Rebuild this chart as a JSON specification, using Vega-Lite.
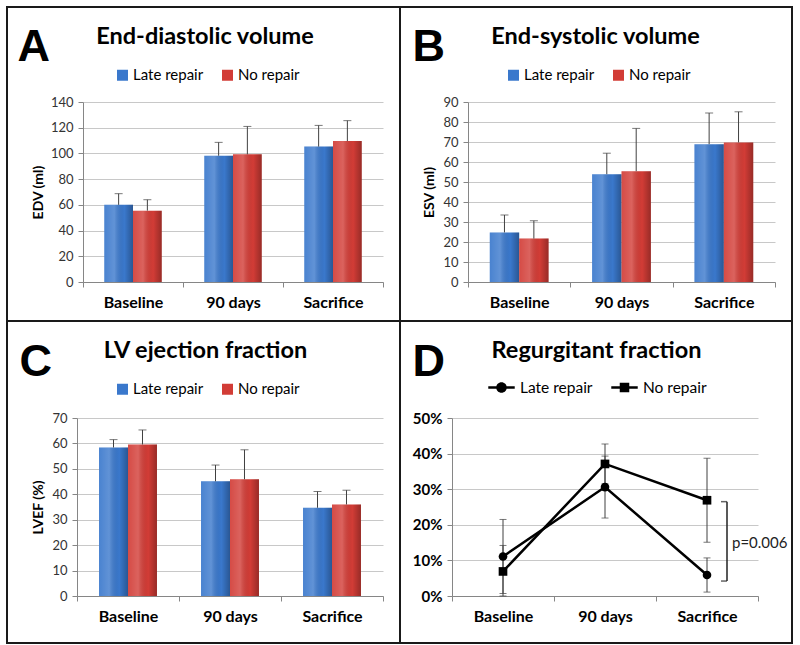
{
 "$schema": "https://vega.github.io/schema/vega-lite/v6.json",
 "padding": {"left": 6, "top": 6, "right": 0, "bottom": 0},
 "background": "white",
 "data": {"values": [{}]},
 "spacing": 0,
 "resolve": {"scale": {"color": "independent", "shape": "independent", "xOffset": "independent"}},
 "config": {"view": {"stroke": null}, "font": "Lato", "axis": {"labelFont": "Lato", "titleFont": "Lato"}, "legend": {"labelFont": "Lato"}},
 "vconcat": [
 {"columns": 9, "bounds": "flush", "spacing": 0, "align": "each",
  "resolve": {"scale": {"color": "independent", "shape": "independent", "xOffset": "independent"}},
  "concat": [
  {"width": 2, "height": 2, "mark": {"type": "point", "opacity": 0, "size": 0}, "encoding": {}, "view": {"fill": "#1a1a1a"}},
  {"width": 75, "height": 2, "mark": {"type": "point", "opacity": 0, "size": 0}, "encoding": {}, "view": {"fill": "#1a1a1a"}},
  {"width": 300, "height": 2, "mark": {"type": "point", "opacity": 0, "size": 0}, "encoding": {}, "view": {"fill": "#1a1a1a"}},
  {"width": 16, "height": 2, "mark": {"type": "point", "opacity": 0, "size": 0}, "encoding": {}, "view": {"fill": "#1a1a1a"}},
  {"width": 2, "height": 2, "mark": {"type": "point", "opacity": 0, "size": 0}, "encoding": {}, "view": {"fill": "#1a1a1a"}},
  {"width": 67, "height": 2, "mark": {"type": "point", "opacity": 0, "size": 0}, "encoding": {}, "view": {"fill": "#1a1a1a"}},
  {"width": 307, "height": 2, "mark": {"type": "point", "opacity": 0, "size": 0}, "encoding": {}, "view": {"fill": "#1a1a1a"}},
  {"width": 16, "height": 2, "mark": {"type": "point", "opacity": 0, "size": 0}, "encoding": {}, "view": {"fill": "#1a1a1a"}},
  {"width": 2, "height": 2, "mark": {"type": "point", "opacity": 0, "size": 0}, "encoding": {}, "view": {"fill": "#1a1a1a"}},

  {"width": 2, "height": 94, "mark": {"type": "point", "opacity": 0, "size": 0}, "encoding": {}, "view": {"fill": "#1a1a1a"}},
  {"width": 75, "height": 1, "mark": {"type": "point", "opacity": 0, "size": 0}, "encoding": {}},
  {"width": 300, "height": 1, "mark": {"type": "point", "opacity": 0, "size": 0}, "encoding": {}},
  {"width": 16, "height": 1, "mark": {"type": "point", "opacity": 0, "size": 0}, "encoding": {}},
  {"width": 2, "height": 94, "mark": {"type": "point", "opacity": 0, "size": 0}, "encoding": {}, "view": {"fill": "#1a1a1a"}},
  {"width": 67, "height": 1, "mark": {"type": "point", "opacity": 0, "size": 0}, "encoding": {}},
  {"width": 307, "height": 1, "mark": {"type": "point", "opacity": 0, "size": 0}, "encoding": {}},
  {"width": 16, "height": 1, "mark": {"type": "point", "opacity": 0, "size": 0}, "encoding": {}},
  {"width": 2, "height": 94, "mark": {"type": "point", "opacity": 0, "size": 0}, "encoding": {}, "view": {"fill": "#1a1a1a"}},

  {"width": 2, "height": 180, "mark": {"type": "point", "opacity": 0, "size": 0}, "encoding": {}, "view": {"fill": "#1a1a1a"}},
  {"width": 75, "height": 1, "mark": {"type": "point", "opacity": 0, "size": 0}, "encoding": {}},
  {"width": 300, "height": 180,
   "data": {"values": [
    {"t": "Baseline", "g": "Late repair", "v": 60, "e": 68.7},
    {"t": "Baseline", "g": "No repair", "v": 55.5, "e": 64},
    {"t": "90 days", "g": "Late repair", "v": 98.2, "e": 108.6},
    {"t": "90 days", "g": "No repair", "v": 99.3, "e": 121},
    {"t": "Sacrifice", "g": "Late repair", "v": 105.3, "e": 121.8},
    {"t": "Sacrifice", "g": "No repair", "v": 109.6, "e": 125.5}
   ]},
   "resolve": {"axis": {"x": "independent", "y": "independent"}},
   "layer": [
    {"mark": {"type": "bar"},
     "encoding": {
      "x": {"field": "t", "type": "nominal", "sort": ["Baseline", "90 days", "Sacrifice"], "scale": {"paddingInner": 0, "paddingOuter": 0},
            "axis": {"orient": "bottom", "title": null, "labelAngle": 0, "tickBand": "extent", "labelFontSize": 16, "labelFontWeight": "bold", "labelColor": "#000", "labelPadding": 7, "grid": false, "domainColor": "#868686", "tickColor": "#868686", "tickSize": 5}},
      "xOffset": {"field": "g", "type": "nominal", "scale": {"paddingInner": 0, "paddingOuter": 0.74}},
      "y": {"field": "v", "type": "quantitative", "scale": {"domain": [0, 140], "nice": false},
            "axis": {"orient": "left", "values": [0, 20, 40, 60, 80, 100, 120, 140], "grid": true, "gridColor": "#c8c8c8", "domainColor": "#868686", "tickColor": "#868686", "tickSize": 5, "labelFontSize": 13, "labelColor": "#333", "labelPadding": 5,
                     "title": "EDV (ml)", "titleFontSize": 14, "titleFontWeight": "bold", "titleColor": "#000", "titleX": -44.5, "titleY": 90, "titleAngle": -90, "titleAlign": "center", "titleBaseline": "middle"}},
      "color": {"field": "g", "type": "nominal", "scale": {"domain": ["Late repair", "No repair"], "range": ["#3A78CC", "#D23C36"]},
                "legend": {"orient": "none", "legendX": 32, "legendY": -34.5, "direction": "horizontal", "title": null, "symbolType": "square", "symbolSize": 121, "symbolStrokeWidth": 0, "labelFontSize": 15, "labelColor": "#000", "columnPadding": 16, "labelOffset": 3}}
     }},
    {"mark": {"type": "bar", "fill": {"gradient": "linear", "x1": 0, "x2": 1, "y1": 0, "y2": 0, "stops": [{"offset": 0, "color": "rgba(255,255,255,0.08)"}, {"offset": 0.35, "color": "rgba(255,255,255,0.2)"}, {"offset": 0.7, "color": "rgba(0,0,0,0)"}, {"offset": 1, "color": "rgba(0,0,0,0.28)"}]}},
     "encoding": {
      "x": {"field": "t", "type": "nominal", "sort": ["Baseline", "90 days", "Sacrifice"], "axis": null},
      "xOffset": {"field": "g", "type": "nominal"},
      "y": {"field": "v", "type": "quantitative", "axis": null}
     }},
    {"mark": {"type": "rule", "color": "#404040", "strokeWidth": 1},
     "encoding": {
      "x": {"field": "t", "type": "nominal", "sort": ["Baseline", "90 days", "Sacrifice"],
            "axis": {"orient": "top", "labels": false, "ticks": false, "domain": false, "grid": false, "title": "End-diastolic volume", "titleX": 121.5, "titleY": -59, "titleAlign": "center", "titleBaseline": "alphabetic", "titleFontSize": 23.5, "titleFontWeight": "bold", "titleColor": "#000", "titleAngle": 0}},
      "xOffset": {"field": "g", "type": "nominal"},
      "y": {"field": "v", "type": "quantitative",
            "axis": {"orient": "right", "labels": false, "ticks": false, "domain": false, "grid": false, "title": "A", "titleX": -366, "titleY": -42, "titleAngle": 0, "titleAlign": "left", "titleBaseline": "alphabetic", "titleFont": "Liberation Sans", "titleFontSize": 45, "titleFontWeight": "bold", "titleColor": "#000"}},
      "y2": {"field": "e"}
     }},
    {"mark": {"type": "tick", "orient": "horizontal", "size": 8, "thickness": 1, "color": "#404040"},
     "encoding": {
      "x": {"field": "t", "type": "nominal", "sort": ["Baseline", "90 days", "Sacrifice"], "axis": null},
      "xOffset": {"field": "g", "type": "nominal"},
      "y": {"field": "e", "type": "quantitative", "axis": null}
     }}
   ]},
  {"width": 16, "height": 1, "mark": {"type": "point", "opacity": 0, "size": 0}, "encoding": {}},
  {"width": 2, "height": 180, "mark": {"type": "point", "opacity": 0, "size": 0}, "encoding": {}, "view": {"fill": "#1a1a1a"}},
  {"width": 67, "height": 1, "mark": {"type": "point", "opacity": 0, "size": 0}, "encoding": {}},
  {"width": 307, "height": 180,
   "data": {"values": [
    {"t": "Baseline", "g": "Late repair", "v": 24.8, "e": 33.5},
    {"t": "Baseline", "g": "No repair", "v": 21.7, "e": 30.6},
    {"t": "90 days", "g": "Late repair", "v": 53.9, "e": 64.4},
    {"t": "90 days", "g": "No repair", "v": 55.4, "e": 76.8},
    {"t": "Sacrifice", "g": "Late repair", "v": 68.9, "e": 84.5},
    {"t": "Sacrifice", "g": "No repair", "v": 69.8, "e": 85.1}
   ]},
   "resolve": {"axis": {"x": "independent", "y": "independent"}},
   "layer": [
    {"mark": {"type": "bar"},
     "encoding": {
      "x": {"field": "t", "type": "nominal", "sort": ["Baseline", "90 days", "Sacrifice"], "scale": {"paddingInner": 0, "paddingOuter": 0},
            "axis": {"orient": "bottom", "title": null, "labelAngle": 0, "tickBand": "extent", "labelFontSize": 16, "labelFontWeight": "bold", "labelColor": "#000", "labelPadding": 7, "grid": false, "domainColor": "#868686", "tickColor": "#868686", "tickSize": 5}},
      "xOffset": {"field": "g", "type": "nominal", "scale": {"paddingInner": 0, "paddingOuter": 0.74}},
      "y": {"field": "v", "type": "quantitative", "scale": {"domain": [0, 90], "nice": false},
            "axis": {"orient": "left", "values": [0, 10, 20, 30, 40, 50, 60, 70, 80, 90], "grid": true, "gridColor": "#c8c8c8", "domainColor": "#868686", "tickColor": "#868686", "tickSize": 5, "labelFontSize": 13, "labelColor": "#333", "labelPadding": 5,
                     "title": "ESV (ml)", "titleFontSize": 14, "titleFontWeight": "bold", "titleColor": "#000", "titleX": -38.5, "titleY": 90, "titleAngle": -90, "titleAlign": "center", "titleBaseline": "middle"}},
      "color": {"field": "g", "type": "nominal", "scale": {"domain": ["Late repair", "No repair"], "range": ["#3A78CC", "#D23C36"]},
                "legend": {"orient": "none", "legendX": 38, "legendY": -34.5, "direction": "horizontal", "title": null, "symbolType": "square", "symbolSize": 121, "symbolStrokeWidth": 0, "labelFontSize": 15, "labelColor": "#000", "columnPadding": 16, "labelOffset": 3}}
     }},
    {"mark": {"type": "bar", "fill": {"gradient": "linear", "x1": 0, "x2": 1, "y1": 0, "y2": 0, "stops": [{"offset": 0, "color": "rgba(255,255,255,0.08)"}, {"offset": 0.35, "color": "rgba(255,255,255,0.2)"}, {"offset": 0.7, "color": "rgba(0,0,0,0)"}, {"offset": 1, "color": "rgba(0,0,0,0.28)"}]}},
     "encoding": {
      "x": {"field": "t", "type": "nominal", "sort": ["Baseline", "90 days", "Sacrifice"], "axis": null},
      "xOffset": {"field": "g", "type": "nominal"},
      "y": {"field": "v", "type": "quantitative", "axis": null}
     }},
    {"mark": {"type": "rule", "color": "#404040", "strokeWidth": 1},
     "encoding": {
      "x": {"field": "t", "type": "nominal", "sort": ["Baseline", "90 days", "Sacrifice"],
            "axis": {"orient": "top", "labels": false, "ticks": false, "domain": false, "grid": false, "title": "End-systolic volume", "titleX": 127, "titleY": -59, "titleAlign": "center", "titleBaseline": "alphabetic", "titleFontSize": 23.5, "titleFontWeight": "bold", "titleColor": "#000", "titleAngle": 0}},
      "xOffset": {"field": "g", "type": "nominal"},
      "y": {"field": "v", "type": "quantitative",
            "axis": {"orient": "right", "labels": false, "ticks": false, "domain": false, "grid": false, "title": "B", "titleX": -363, "titleY": -42, "titleAngle": 0, "titleAlign": "left", "titleBaseline": "alphabetic", "titleFont": "Liberation Sans", "titleFontSize": 45, "titleFontWeight": "bold", "titleColor": "#000"}},
      "y2": {"field": "e"}
     }},
    {"mark": {"type": "tick", "orient": "horizontal", "size": 8, "thickness": 1, "color": "#404040"},
     "encoding": {
      "x": {"field": "t", "type": "nominal", "sort": ["Baseline", "90 days", "Sacrifice"], "axis": null},
      "xOffset": {"field": "g", "type": "nominal"},
      "y": {"field": "e", "type": "quantitative", "axis": null}
     }}
   ]},
  {"width": 16, "height": 1, "mark": {"type": "point", "opacity": 0, "size": 0}, "encoding": {}},
  {"width": 2, "height": 180, "mark": {"type": "point", "opacity": 0, "size": 0}, "encoding": {}, "view": {"fill": "#1a1a1a"}},

  {"width": 2, "height": 38, "mark": {"type": "point", "opacity": 0, "size": 0}, "encoding": {}, "view": {"fill": "#1a1a1a"}},
  {"width": 75, "height": 1, "mark": {"type": "point", "opacity": 0, "size": 0}, "encoding": {}},
  {"width": 300, "height": 1, "mark": {"type": "point", "opacity": 0, "size": 0}, "encoding": {}},
  {"width": 16, "height": 1, "mark": {"type": "point", "opacity": 0, "size": 0}, "encoding": {}},
  {"width": 2, "height": 38, "mark": {"type": "point", "opacity": 0, "size": 0}, "encoding": {}, "view": {"fill": "#1a1a1a"}},
  {"width": 67, "height": 1, "mark": {"type": "point", "opacity": 0, "size": 0}, "encoding": {}},
  {"width": 307, "height": 1, "mark": {"type": "point", "opacity": 0, "size": 0}, "encoding": {}},
  {"width": 16, "height": 1, "mark": {"type": "point", "opacity": 0, "size": 0}, "encoding": {}},
  {"width": 2, "height": 38, "mark": {"type": "point", "opacity": 0, "size": 0}, "encoding": {}, "view": {"fill": "#1a1a1a"}}
  ]},
 {"columns": 9, "bounds": "flush", "spacing": 0, "align": "each",
  "resolve": {"scale": {"color": "independent", "shape": "independent", "xOffset": "independent"}},
  "concat": [
  {"width": 2, "height": 2, "mark": {"type": "point", "opacity": 0, "size": 0}, "encoding": {}, "view": {"fill": "#1a1a1a"}},
  {"width": 69, "height": 2, "mark": {"type": "point", "opacity": 0, "size": 0}, "encoding": {}, "view": {"fill": "#1a1a1a"}},
  {"width": 306, "height": 2, "mark": {"type": "point", "opacity": 0, "size": 0}, "encoding": {}, "view": {"fill": "#1a1a1a"}},
  {"width": 16, "height": 2, "mark": {"type": "point", "opacity": 0, "size": 0}, "encoding": {}, "view": {"fill": "#1a1a1a"}},
  {"width": 2, "height": 2, "mark": {"type": "point", "opacity": 0, "size": 0}, "encoding": {}, "view": {"fill": "#1a1a1a"}},
  {"width": 51, "height": 2, "mark": {"type": "point", "opacity": 0, "size": 0}, "encoding": {}, "view": {"fill": "#1a1a1a"}},
  {"width": 306, "height": 2, "mark": {"type": "point", "opacity": 0, "size": 0}, "encoding": {}, "view": {"fill": "#1a1a1a"}},
  {"width": 33, "height": 2, "mark": {"type": "point", "opacity": 0, "size": 0}, "encoding": {}, "view": {"fill": "#1a1a1a"}},
  {"width": 2, "height": 2, "mark": {"type": "point", "opacity": 0, "size": 0}, "encoding": {}, "view": {"fill": "#1a1a1a"}},

  {"width": 2, "height": 96, "mark": {"type": "point", "opacity": 0, "size": 0}, "encoding": {}, "view": {"fill": "#1a1a1a"}},
  {"width": 69, "height": 1, "mark": {"type": "point", "opacity": 0, "size": 0}, "encoding": {}},
  {"width": 306, "height": 1, "mark": {"type": "point", "opacity": 0, "size": 0}, "encoding": {}},
  {"width": 16, "height": 1, "mark": {"type": "point", "opacity": 0, "size": 0}, "encoding": {}},
  {"width": 2, "height": 96, "mark": {"type": "point", "opacity": 0, "size": 0}, "encoding": {}, "view": {"fill": "#1a1a1a"}},
  {"width": 51, "height": 1, "mark": {"type": "point", "opacity": 0, "size": 0}, "encoding": {}},
  {"width": 306, "height": 1, "mark": {"type": "point", "opacity": 0, "size": 0}, "encoding": {}},
  {"width": 33, "height": 1, "mark": {"type": "point", "opacity": 0, "size": 0}, "encoding": {}},
  {"width": 2, "height": 96, "mark": {"type": "point", "opacity": 0, "size": 0}, "encoding": {}, "view": {"fill": "#1a1a1a"}},

  {"width": 2, "height": 178, "mark": {"type": "point", "opacity": 0, "size": 0}, "encoding": {}, "view": {"fill": "#1a1a1a"}},
  {"width": 69, "height": 1, "mark": {"type": "point", "opacity": 0, "size": 0}, "encoding": {}},
  {"width": 306, "height": 178,
   "data": {"values": [
    {"t": "Baseline", "g": "Late repair", "v": 58.4, "e": 61.5},
    {"t": "Baseline", "g": "No repair", "v": 59.6, "e": 65.3},
    {"t": "90 days", "g": "Late repair", "v": 45.1, "e": 51.5},
    {"t": "90 days", "g": "No repair", "v": 45.9, "e": 57.5},
    {"t": "Sacrifice", "g": "Late repair", "v": 34.7, "e": 41.1},
    {"t": "Sacrifice", "g": "No repair", "v": 36.0, "e": 41.6}
   ]},
   "resolve": {"axis": {"x": "independent", "y": "independent"}},
   "layer": [
    {"mark": {"type": "bar"},
     "encoding": {
      "x": {"field": "t", "type": "nominal", "sort": ["Baseline", "90 days", "Sacrifice"], "scale": {"paddingInner": 0, "paddingOuter": 0},
            "axis": {"orient": "bottom", "title": null, "labelAngle": 0, "tickBand": "extent", "labelFontSize": 16, "labelFontWeight": "bold", "labelColor": "#000", "labelPadding": 7, "grid": false, "domainColor": "#868686", "tickColor": "#868686", "tickSize": 5}},
      "xOffset": {"field": "g", "type": "nominal", "scale": {"paddingInner": 0, "paddingOuter": 0.76}},
      "y": {"field": "v", "type": "quantitative", "scale": {"domain": [0, 70], "nice": false},
            "axis": {"orient": "left", "values": [0, 10, 20, 30, 40, 50, 60, 70], "grid": true, "gridColor": "#c8c8c8", "domainColor": "#868686", "tickColor": "#868686", "tickSize": 5, "labelFontSize": 13, "labelColor": "#333", "labelPadding": 5,
                     "title": "LVEF (%)", "titleFontSize": 14, "titleFontWeight": "bold", "titleColor": "#000", "titleX": -38.5, "titleY": 89, "titleAngle": -90, "titleAlign": "center", "titleBaseline": "middle"}},
      "color": {"field": "g", "type": "nominal", "scale": {"domain": ["Late repair", "No repair"], "range": ["#3A78CC", "#D23C36"]},
                "legend": {"orient": "none", "legendX": 38, "legendY": -36.5, "direction": "horizontal", "title": null, "symbolType": "square", "symbolSize": 121, "symbolStrokeWidth": 0, "labelFontSize": 15, "labelColor": "#000", "columnPadding": 16, "labelOffset": 3}}
     }},
    {"mark": {"type": "bar", "fill": {"gradient": "linear", "x1": 0, "x2": 1, "y1": 0, "y2": 0, "stops": [{"offset": 0, "color": "rgba(255,255,255,0.08)"}, {"offset": 0.35, "color": "rgba(255,255,255,0.2)"}, {"offset": 0.7, "color": "rgba(0,0,0,0)"}, {"offset": 1, "color": "rgba(0,0,0,0.28)"}]}},
     "encoding": {
      "x": {"field": "t", "type": "nominal", "sort": ["Baseline", "90 days", "Sacrifice"], "axis": null},
      "xOffset": {"field": "g", "type": "nominal"},
      "y": {"field": "v", "type": "quantitative", "axis": null}
     }},
    {"mark": {"type": "rule", "color": "#404040", "strokeWidth": 1},
     "encoding": {
      "x": {"field": "t", "type": "nominal", "sort": ["Baseline", "90 days", "Sacrifice"],
            "axis": {"orient": "top", "labels": false, "ticks": false, "domain": false, "grid": false, "title": "LV ejection fraction", "titleX": 128, "titleY": -61, "titleAlign": "center", "titleBaseline": "alphabetic", "titleFontSize": 23.5, "titleFontWeight": "bold", "titleColor": "#000", "titleAngle": 0}},
      "xOffset": {"field": "g", "type": "nominal"},
      "y": {"field": "v", "type": "quantitative",
            "axis": {"orient": "right", "labels": false, "ticks": false, "domain": false, "grid": false, "title": "C", "titleX": -364, "titleY": -43, "titleAngle": 0, "titleAlign": "left", "titleBaseline": "alphabetic", "titleFont": "Liberation Sans", "titleFontSize": 45, "titleFontWeight": "bold", "titleColor": "#000"}},
      "y2": {"field": "e"}
     }},
    {"mark": {"type": "tick", "orient": "horizontal", "size": 8, "thickness": 1, "color": "#404040"},
     "encoding": {
      "x": {"field": "t", "type": "nominal", "sort": ["Baseline", "90 days", "Sacrifice"], "axis": null},
      "xOffset": {"field": "g", "type": "nominal"},
      "y": {"field": "e", "type": "quantitative", "axis": null}
     }}
   ]},
  {"width": 16, "height": 1, "mark": {"type": "point", "opacity": 0, "size": 0}, "encoding": {}},
  {"width": 2, "height": 178, "mark": {"type": "point", "opacity": 0, "size": 0}, "encoding": {}, "view": {"fill": "#1a1a1a"}},
  {"width": 51, "height": 1, "mark": {"type": "point", "opacity": 0, "size": 0}, "encoding": {}},
  {"width": 306, "height": 178,
   "data": {"values": [
    {"t": "Baseline", "g": "Late repair", "v": 0.111, "lo": 0.007, "hi": 0.215},
    {"t": "Baseline", "g": "No repair", "v": 0.069, "lo": 0.0, "hi": 0.142},
    {"t": "90 days", "g": "Late repair", "v": 0.306, "lo": 0.219, "hi": 0.393},
    {"t": "90 days", "g": "No repair", "v": 0.371, "lo": 0.315, "hi": 0.427},
    {"t": "Sacrifice", "g": "Late repair", "v": 0.059, "lo": 0.011, "hi": 0.107},
    {"t": "Sacrifice", "g": "No repair", "v": 0.269, "lo": 0.151, "hi": 0.387}
   ]},
   "resolve": {"axis": {"x": "independent", "y": "independent"}},
   "layer": [
    {"mark": {"type": "rule", "color": "#404040", "strokeWidth": 1},
     "encoding": {
      "x": {"field": "t", "type": "nominal", "sort": ["Baseline", "90 days", "Sacrifice"], "scale": {"paddingInner": 0, "paddingOuter": 0},
            "axis": {"orient": "bottom", "title": null, "labelAngle": 0, "tickBand": "extent", "labelFontSize": 16, "labelFontWeight": "bold", "labelColor": "#000", "labelPadding": 7, "grid": false, "domainColor": "#868686", "tickColor": "#868686", "tickSize": 5}},
      "y": {"field": "lo", "type": "quantitative", "scale": {"domain": [0, 0.5], "nice": false},
            "axis": {"orient": "left", "values": [0, 0.1, 0.2, 0.3, 0.4, 0.5], "format": ".0%", "grid": true, "gridColor": "#c8c8c8", "domainColor": "#868686", "tickColor": "#868686", "tickSize": 5, "labelFontSize": 15, "labelFontWeight": "bold", "labelColor": "#000", "labelPadding": 5, "title": null}},
      "y2": {"field": "hi"}
     }},
    {"mark": {"type": "tick", "orient": "horizontal", "size": 7, "thickness": 1, "color": "#404040"},
     "encoding": {
      "x": {"field": "t", "type": "nominal", "sort": ["Baseline", "90 days", "Sacrifice"], "axis": null},
      "y": {"field": "lo", "type": "quantitative", "axis": null}
     }},
    {"mark": {"type": "tick", "orient": "horizontal", "size": 7, "thickness": 1, "color": "#404040"},
     "encoding": {
      "x": {"field": "t", "type": "nominal", "sort": ["Baseline", "90 days", "Sacrifice"], "axis": null},
      "y": {"field": "hi", "type": "quantitative", "axis": null}
     }},
    {"mark": {"type": "line", "color": "#000", "strokeWidth": 2.5},
     "encoding": {
      "x": {"field": "t", "type": "nominal", "sort": ["Baseline", "90 days", "Sacrifice"],
            "axis": {"orient": "top", "labels": false, "ticks": false, "domain": false, "grid": false, "title": "Regurgitant fraction", "titleX": 144, "titleY": -61, "titleAlign": "center", "titleBaseline": "alphabetic", "titleFontSize": 23.5, "titleFontWeight": "bold", "titleColor": "#000", "titleAngle": 0}},
      "y": {"field": "v", "type": "quantitative",
            "axis": {"orient": "right", "labels": false, "ticks": false, "domain": false, "grid": false, "title": "D", "titleX": -346, "titleY": -43, "titleAngle": 0, "titleAlign": "left", "titleBaseline": "alphabetic", "titleFont": "Liberation Sans", "titleFontSize": 45, "titleFontWeight": "bold", "titleColor": "#000"}},
      "detail": {"field": "g"}
     }},
    {"transform": [{"filter": "datum.g === 'Late repair'"}],
     "mark": {"type": "point", "shape": "circle", "filled": true, "color": "#000", "opacity": 1, "size": 75},
     "encoding": {
      "x": {"field": "t", "type": "nominal", "sort": ["Baseline", "90 days", "Sacrifice"], "axis": null},
      "y": {"field": "v", "type": "quantitative", "axis": null}
     }},
    {"transform": [{"filter": "datum.g === 'No repair'"}],
     "mark": {"type": "point", "shape": "square", "filled": true, "color": "#000", "opacity": 1, "size": 75},
     "encoding": {
      "x": {"field": "t", "type": "nominal", "sort": ["Baseline", "90 days", "Sacrifice"], "axis": null},
      "y": {"field": "v", "type": "quantitative", "axis": null}
     }},
    {"transform": [{"filter": "false"}],
     "mark": {"type": "point", "filled": true, "color": "#000", "opacity": 1},
     "encoding": {
      "shape": {"field": "g", "type": "nominal",
                "scale": {"domain": ["Late repair", "No repair"], "range": ["M-1,-0.1H-0.3V0.1H-1Z M0.3,-0.1H1V0.1H0.3Z M-0.4,0A0.4,0.4 0 1,1 0.4,0A0.4,0.4 0 1,1 -0.4,0Z", "M-1,-0.1H-0.36V0.1H-1Z M0.36,-0.1H1V0.1H0.36Z M-0.36,-0.36H0.36V0.36H-0.36Z"]},
                "legend": {"orient": "none", "legendX": 36, "legendY": -44, "direction": "horizontal", "title": null, "symbolSize": 700, "symbolStrokeWidth": 0, "symbolFillColor": "#000", "symbolOpacity": 1, "labelFontSize": 15.5, "labelColor": "#000", "columnPadding": 18, "labelOffset": 5}}
     }},
    {"data": {"values": [{"t": "Sacrifice", "top": 0.265, "bot": 0.042}]},
     "mark": {"type": "rule", "color": "#222", "strokeWidth": 1.5, "xOffset": 20},
     "encoding": {
      "x": {"field": "t", "type": "nominal", "sort": ["Baseline", "90 days", "Sacrifice"], "axis": null},
      "y": {"field": "top", "type": "quantitative", "axis": null},
      "y2": {"field": "bot"}
     }},
    {"data": {"values": [{"t": "Sacrifice", "top": 0.265, "bot": 0.042}]},
     "mark": {"type": "tick", "orient": "horizontal", "size": 6, "thickness": 1.5, "color": "#222", "xOffset": 17},
     "encoding": {
      "x": {"field": "t", "type": "nominal", "sort": ["Baseline", "90 days", "Sacrifice"], "axis": null},
      "y": {"field": "top", "type": "quantitative", "axis": null}
     }},
    {"data": {"values": [{"t": "Sacrifice", "top": 0.265, "bot": 0.042}]},
     "mark": {"type": "tick", "orient": "horizontal", "size": 6, "thickness": 1.5, "color": "#222", "xOffset": 17},
     "encoding": {
      "x": {"field": "t", "type": "nominal", "sort": ["Baseline", "90 days", "Sacrifice"], "axis": null},
      "y": {"field": "bot", "type": "quantitative", "axis": null}
     }},
    {"data": {"values": [{"t": "Sacrifice", "p": 0.15, "label": "p=0.006"}]},
     "mark": {"type": "text", "align": "left", "baseline": "middle", "dx": 25, "fontSize": 15, "font": "Lato", "color": "#222"},
     "encoding": {
      "x": {"field": "t", "type": "nominal", "sort": ["Baseline", "90 days", "Sacrifice"], "axis": null},
      "y": {"field": "p", "type": "quantitative", "axis": null},
      "text": {"field": "label"}
     }}
   ]},
  {"width": 33, "height": 1, "mark": {"type": "point", "opacity": 0, "size": 0}, "encoding": {}},
  {"width": 2, "height": 178, "mark": {"type": "point", "opacity": 0, "size": 0}, "encoding": {}, "view": {"fill": "#1a1a1a"}},

  {"width": 2, "height": 46, "mark": {"type": "point", "opacity": 0, "size": 0}, "encoding": {}, "view": {"fill": "#1a1a1a"}},
  {"width": 69, "height": 1, "mark": {"type": "point", "opacity": 0, "size": 0}, "encoding": {}},
  {"width": 306, "height": 1, "mark": {"type": "point", "opacity": 0, "size": 0}, "encoding": {}},
  {"width": 16, "height": 1, "mark": {"type": "point", "opacity": 0, "size": 0}, "encoding": {}},
  {"width": 2, "height": 46, "mark": {"type": "point", "opacity": 0, "size": 0}, "encoding": {}, "view": {"fill": "#1a1a1a"}},
  {"width": 51, "height": 1, "mark": {"type": "point", "opacity": 0, "size": 0}, "encoding": {}},
  {"width": 306, "height": 1, "mark": {"type": "point", "opacity": 0, "size": 0}, "encoding": {}},
  {"width": 33, "height": 1, "mark": {"type": "point", "opacity": 0, "size": 0}, "encoding": {}},
  {"width": 2, "height": 46, "mark": {"type": "point", "opacity": 0, "size": 0}, "encoding": {}, "view": {"fill": "#1a1a1a"}},

  {"width": 2, "height": 2, "mark": {"type": "point", "opacity": 0, "size": 0}, "encoding": {}, "view": {"fill": "#1a1a1a"}},
  {"width": 69, "height": 2, "mark": {"type": "point", "opacity": 0, "size": 0}, "encoding": {}, "view": {"fill": "#1a1a1a"}},
  {"width": 306, "height": 2, "mark": {"type": "point", "opacity": 0, "size": 0}, "encoding": {}, "view": {"fill": "#1a1a1a"}},
  {"width": 16, "height": 2, "mark": {"type": "point", "opacity": 0, "size": 0}, "encoding": {}, "view": {"fill": "#1a1a1a"}},
  {"width": 2, "height": 2, "mark": {"type": "point", "opacity": 0, "size": 0}, "encoding": {}, "view": {"fill": "#1a1a1a"}},
  {"width": 51, "height": 2, "mark": {"type": "point", "opacity": 0, "size": 0}, "encoding": {}, "view": {"fill": "#1a1a1a"}},
  {"width": 306, "height": 2, "mark": {"type": "point", "opacity": 0, "size": 0}, "encoding": {}, "view": {"fill": "#1a1a1a"}},
  {"width": 33, "height": 2, "mark": {"type": "point", "opacity": 0, "size": 0}, "encoding": {}, "view": {"fill": "#1a1a1a"}},
  {"width": 2, "height": 2, "mark": {"type": "point", "opacity": 0, "size": 0}, "encoding": {}, "view": {"fill": "#1a1a1a"}}
  ]}
 ]
}
